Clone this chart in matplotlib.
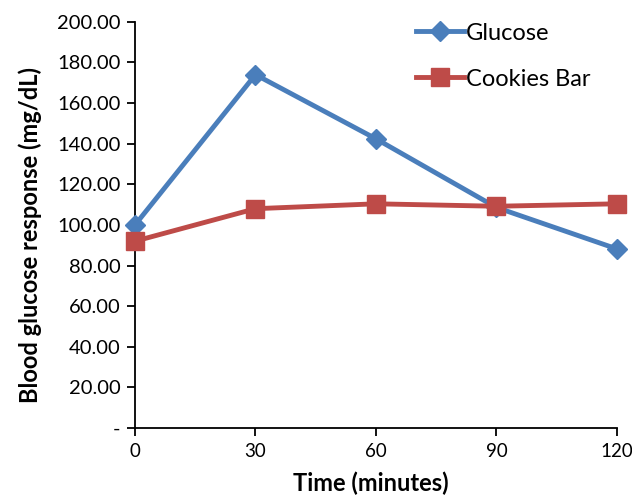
import matplotlib as mpl
import matplotlib.pyplot as plt
import numpy as np

mpl.rcParams['font.family'] = ['Lato', 'DejaVu Sans']

# data
times = ["0", "30", "60", "90", "120"]
glucose = [100.0, 174.0, 142.4, 108.6, 88.2]
cookies = [92.0, 108.0, 110.4, 109.2, 110.4]
yticks = [0, 20, 40, 60, 80, 100, 120, 140, 160, 180, 200]
ytick_labels = ["-" if v == 0 else f"{v:.2f}" for v in yticks]

blue = "#4A7EBB"
red = "#BE4B48"

fig = plt.figure(figsize=(6.32, 4.96), dpi=100)
ax = fig.add_axes([0.2136, 0.137, 0.7625, 0.819])

x = np.arange(len(times))
ax.plot(x, glucose, color=blue, linewidth=3.5, marker="D", markersize=10,
        label="Glucose", zorder=3)
ax.plot(x, cookies, color=red, linewidth=3.5, marker="s", markersize=12.5,
        label="Cookies Bar", zorder=3)

ax.set_xlim(0, len(times) - 1)
ax.set_ylim(0, 200)
ax.set_xticks(x)
ax.set_xticklabels(times, fontsize=13.5)
ax.set_yticks(yticks)
ax.set_yticklabels(ytick_labels, fontsize=14.5)
ax.tick_params(direction="out", length=5.5, width=1.3, pad=5)

for s in ["top", "right"]:
    ax.spines[s].set_visible(False)
for s in ["left", "bottom"]:
    ax.spines[s].set_linewidth(1.3)

ax.set_xlabel("Time (minutes)", fontsize=17, fontweight="bold")
ax.set_ylabel("Blood glucose response (mg/dL)", fontsize=17, fontweight="bold")
ax.xaxis.set_label_coords(0.49, -0.108)
ax.yaxis.set_label_coords(-0.193, 0.475)

for line in ax.get_lines():
    line.set_clip_on(False)

ax.legend(loc="upper left", bbox_to_anchor=(0.54, 1.05), frameon=False,
          fontsize=17, handlelength=2.0, labelspacing=1.05, handletextpad=0.1)

plt.savefig("out.png", dpi=100)
